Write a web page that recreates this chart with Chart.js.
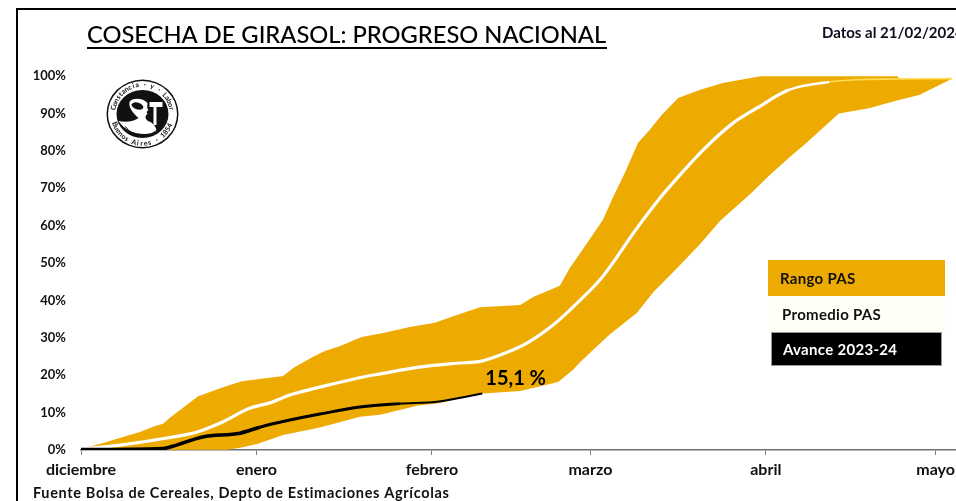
<!DOCTYPE html>
<html lang="es">
<head>
<meta charset="utf-8">
<style>
html,body{margin:0;padding:0;background:#fff;overflow:hidden}
#wrap{position:relative;width:956px;height:501px}
canvas{display:block}
</style>
<script src="https://cdn.jsdelivr.net/npm/chart.js@4/dist/chart.umd.min.js"></script>
</head>
<body>
<div id="wrap"><canvas id="c" width="956" height="501"></canvas></div>
<script>
const titleText = "COSECHA DE GIRASOL: PROGRESO NACIONAL";
const dateText = "Datos al 21/02/2024";
const sourceText = "Fuente Bolsa de Cereales, Depto de Estimaciones Agrícolas";
const monthLabels = ["diciembre","enero","febrero","marzo","abril","mayo"];
const monthDays = [0,31,62,90,121,151];
const yTicks = [0,10,20,30,40,50,60,70,80,90,100];

const upperDays = [0,3.9,7.4,10.4,13.1,14.5,15.7,20.7,25.1,28.4,35.7,37.5,41,43.1,45.8,49.6,53.4,58.1,62.5,66.4,70.5,77.6,79.9,84.6,86.4,89.4,92.2,94,96.1,98.4,100.5,102.6,105.5,109.4,113.4,120,144.3,144.5,153.9];
const upperVals = [0.3,1.9,3.5,4.8,6.4,7.0,8.6,14.4,16.8,18.4,19.8,21.9,24.9,26.5,27.8,30.2,31.3,32.9,34,36.1,38.2,38.8,40.9,43.9,48.7,55.3,61.5,67.6,74.1,82.1,85.6,89.6,94.1,96.3,98.1,99.9,99.9,99.3,99.3];

const lowerDays = [0,25.8,28.1,31.1,35.7,42.2,49.3,52.8,59.4,63.4,71,77.6,84.3,86.9,88.2,93.5,98.2,101.1,105,109.4,112.9,118.2,121.7,125.3,128.1,133.9,139.2,144.5,148.1,153.9];
const lowerVals = [0,0.1,0.6,1.6,4.0,6.0,8.9,9.4,11.8,12.6,15.1,15.8,18.2,21.4,23.5,31,36.6,42.2,48.1,55.1,61.2,68.4,73.5,78.4,82,90,91.4,93.6,94.9,99.3];

const meanDays = [0,6.9,15.2,20.5,24.6,29.9,33.4,36.9,42.2,48.8,53.4,59.4,66.4,70.5,73.5,78.8,83.4,88.2,91.7,94.7,97.5,102.3,105.8,109.9,115.2,119.4,125.1,132.2,136.9,144.5,153.9];
const meanVals = [0.2,1.3,3.2,4.8,7.2,11.2,12.6,14.7,16.8,19.2,20.5,22.1,23.2,23.7,25.1,28.6,33.4,40.1,45.5,51.6,57.8,67.4,73.5,80.2,87.4,91.4,96.3,98.4,99,99.2,99.3];

const avanceDays = [0,14.5,16.2,21.5,28.1,31.6,36.9,42.2,49.3,56.4,62.9,70.9];
const avanceVals = [0.1,0.4,1.0,3.5,4.5,6.1,8.0,9.6,11.5,12.4,12.9,15.1];

const seriesNames = ["Rango PAS","Promedio PAS","Avance 2023-24"];
const AMBER = "#EDAA00";
const FF = "Lato, 'Liberation Sans', sans-serif";
const pts = (xs, ys) => xs.map((x, i) => ({x, y: ys[i]}));

const decor = {
  id: "decor",
  beforeDraw(chart) {
    const g = chart.ctx;
    g.save();
    g.fillStyle = "#fff";
    g.fillRect(0, 0, 956, 501);
    g.fillStyle = "#000";
    g.fillRect(16, 8, 940, 2);
    g.fillRect(16, 8, 2, 493);
    g.restore();
  },
  afterDraw(chart) {
    const g = chart.ctx;
    g.save();
    g.textBaseline = "middle";
    g.textAlign = "left";
    g.fillStyle = "#000";
    g.font = "500 23.7px " + FF;
    g.fillText(titleText, 87, 35);
    g.fillRect(87, 47, 520, 2);
    g.font = "bold 15px " + FF;
    g.fillStyle = "#0d0d20";
    g.fillText(dateText, 822, 33);
    g.font = "bold 14.5px " + FF;
    g.fillStyle = "#111";
    g.letterSpacing = "0.65px";
    g.fillText(sourceText, 33, 493);
    g.letterSpacing = "0.3px";

    // legend boxes
    g.fillStyle = AMBER;
    g.fillRect(768, 260, 177, 36);
    g.fillStyle = "#FFFFF5";
    g.fillRect(768, 296, 177, 35);
    g.fillStyle = "#000";
    g.fillRect(771, 332, 171, 34);
    g.strokeStyle = "#999";
    g.lineWidth = 1;
    g.strokeRect(771.5, 332.5, 170, 33);
    g.font = "bold 15px " + FF;
    g.fillStyle = "#111";
    g.fillText(seriesNames[0], 780, 279);
    g.fillText(seriesNames[1], 782, 315);
    g.fillStyle = "#fff";
    g.fillText(seriesNames[2], 783, 350);
    g.letterSpacing = "0px";

    // value label next to the last progress point
    const i = avanceDays.length - 1;
    const px = chart.scales.x.getPixelForValue(avanceDays[i]);
    const py = chart.scales.y.getPixelForValue(avanceVals[i]);
    g.fillStyle = "#000";
    g.font = "bold 20px " + FF;
    g.fillText(String(avanceVals[i]).replace(".", ",") + " %", px + 3, py - 15);

    drawSeal(g, 142.5, 114);
    g.restore();
  }
};

function arcText(g, text, cx, cy, r, startDeg, stepDeg, inward) {
  [...text].forEach((ch, k) => {
    const a = (startDeg + k * stepDeg) * Math.PI / 180;
    g.save();
    g.translate(cx + r * Math.cos(a), cy + r * Math.sin(a));
    g.rotate(a + (inward ? Math.PI / 2 : -Math.PI / 2));
    g.fillText(ch, 0, 0);
    g.restore();
  });
}

function drawSeal(g, cx, cy) {
  g.save();
  g.fillStyle = "#111";
  g.beginPath(); g.ellipse(cx, cy, 36, 34.5, 0, 0, 7); g.fill();
  g.fillStyle = "#fff";
  g.beginPath(); g.ellipse(cx, cy, 34.5, 33, 0, 0, 7); g.fill();
  g.fillStyle = "#111";
  g.beginPath(); g.ellipse(cx, cy, 26, 24, 0, 0, 7); g.fill();
  g.font = "bold 7px " + FF;
  g.textAlign = "center";
  g.textBaseline = "middle";
  arcText(g, "Constancia · y · Labor", cx, cy, 29.5, -168, 7.5, true);
  arcText(g, "Buenos Aires · 1854", cx, cy, 29.5, 160, -7.6, false);
  // figure
  g.fillStyle = "#fff";
  g.beginPath();
  g.moveTo(cx - 24, cy + 7);
  g.bezierCurveTo(cx - 16, cy + 9, cx - 8, cy + 7, cx - 4, cy + 4);
  g.bezierCurveTo(cx - 10, cy - 1, cx - 14, cy - 7, cx - 13, cy - 12);
  g.bezierCurveTo(cx - 10, cy - 17, cx + 1, cy - 16, cx + 5, cy - 11);
  g.bezierCurveTo(cx + 5, cy - 8, cx + 4, cy - 6, cx + 6, cy - 4);
  g.lineTo(cx + 4, cy - 2);
  g.lineTo(cx + 5, cy);
  g.bezierCurveTo(cx + 2, cy + 2, cx + 2, cy + 6, cx + 8, cy + 8);
  g.bezierCurveTo(cx + 11, cy + 10, cx + 14, cy + 13, cx + 14, cy + 17);
  g.bezierCurveTo(cx + 4, cy + 23, cx - 16, cy + 20, cx - 24, cy + 7);
  g.fill();
  g.fillRect(cx + 11, cy - 9, 3, 20);
  g.fillRect(cx + 7, cy - 12, 13, 5);
  g.fillStyle = "#111";
  g.beginPath(); g.ellipse(cx - 5, cy - 8, 6, 3.5, 0.3, 0, 7); g.fill();
  g.strokeStyle = "#111";
  g.lineWidth = 1;
  g.beginPath(); g.arc(cx, cy + 2, 20, 0.5, 2.6); g.stroke();
  g.restore();
}

new Chart(document.getElementById("c"), {
  type: "line",
  data: {
    datasets: [
      { label: seriesNames[2], data: pts(avanceDays, avanceVals), borderColor: "#000", borderWidth: 3,
        pointRadius: 0, fill: false, order: 0, cubicInterpolationMode: "monotone",
        segment: { borderWidth: c => c.p0.parsed.x < 30 ? 3.6 : c.p0.parsed.x < 50 ? 3 : 2.2 } },
      { label: seriesNames[1], data: pts(meanDays, meanVals), borderColor: "#fff", borderWidth: 3.2,
        pointRadius: 0, fill: false, order: 1, cubicInterpolationMode: "monotone",
        segment: {
          borderWidth: c => c.p0.parsed.x >= 132 ? 1.6 : c.p0.parsed.x >= 125 ? 2.4 : 3.2,
          borderColor: c => c.p0.parsed.x >= 132 ? "#FFDD55" : "#fff"
        } },
      { label: seriesNames[0], data: pts(upperDays, upperVals), borderColor: AMBER, borderWidth: 0,
        backgroundColor: AMBER, pointRadius: 0, tension: 0, fill: { target: 3 }, order: 2 },
      { label: "Rango PAS (mínimo)", data: pts(lowerDays, lowerVals), borderColor: AMBER, borderWidth: 0,
        pointRadius: 0, tension: 0, fill: false, order: 3 }
    ]
  },
  options: {
    responsive: false,
    animation: false,
    parsing: false,
    normalized: true,
    layout: { padding: { top: 76, right: 0, left: 0, bottom: 0 } },
    plugins: { legend: { display: false }, title: { display: false }, tooltip: { enabled: false } },
    scales: {
      x: {
        type: "linear", min: 0, max: 154.6,
        afterFit(s) { s.height = 51; s.paddingRight = 0; s.paddingLeft = 0; },
        afterBuildTicks(s) { s.ticks = monthDays.map(v => ({ value: v })); },
        grid: { display: true, drawOnChartArea: false, drawTicks: true, tickLength: 5, tickColor: "#808080", tickWidth: 1 },
        border: { display: true, color: "#707070", width: 1.5 },
        ticks: {
          autoSkip: false, maxRotation: 0, padding: 5, color: "#111",
          font: { family: FF, weight: "bold", size: 16 },
          callback: v => monthLabels[monthDays.indexOf(v)] ?? ""
        }
      },
      y: {
        min: 0, max: 100,
        afterFit(s) { s.width = 81; },
        afterBuildTicks(s) { s.ticks = yTicks.map(v => ({ value: v })); },
        grid: { display: false, drawTicks: false },
        border: { display: false },
        ticks: {
          padding: 15, color: "#111",
          font: { family: FF, weight: "bold", size: 13 },
          callback: v => v + "%"
        }
      }
    }
  },
  plugins: [decor]
});
</script>
</body>
</html>
